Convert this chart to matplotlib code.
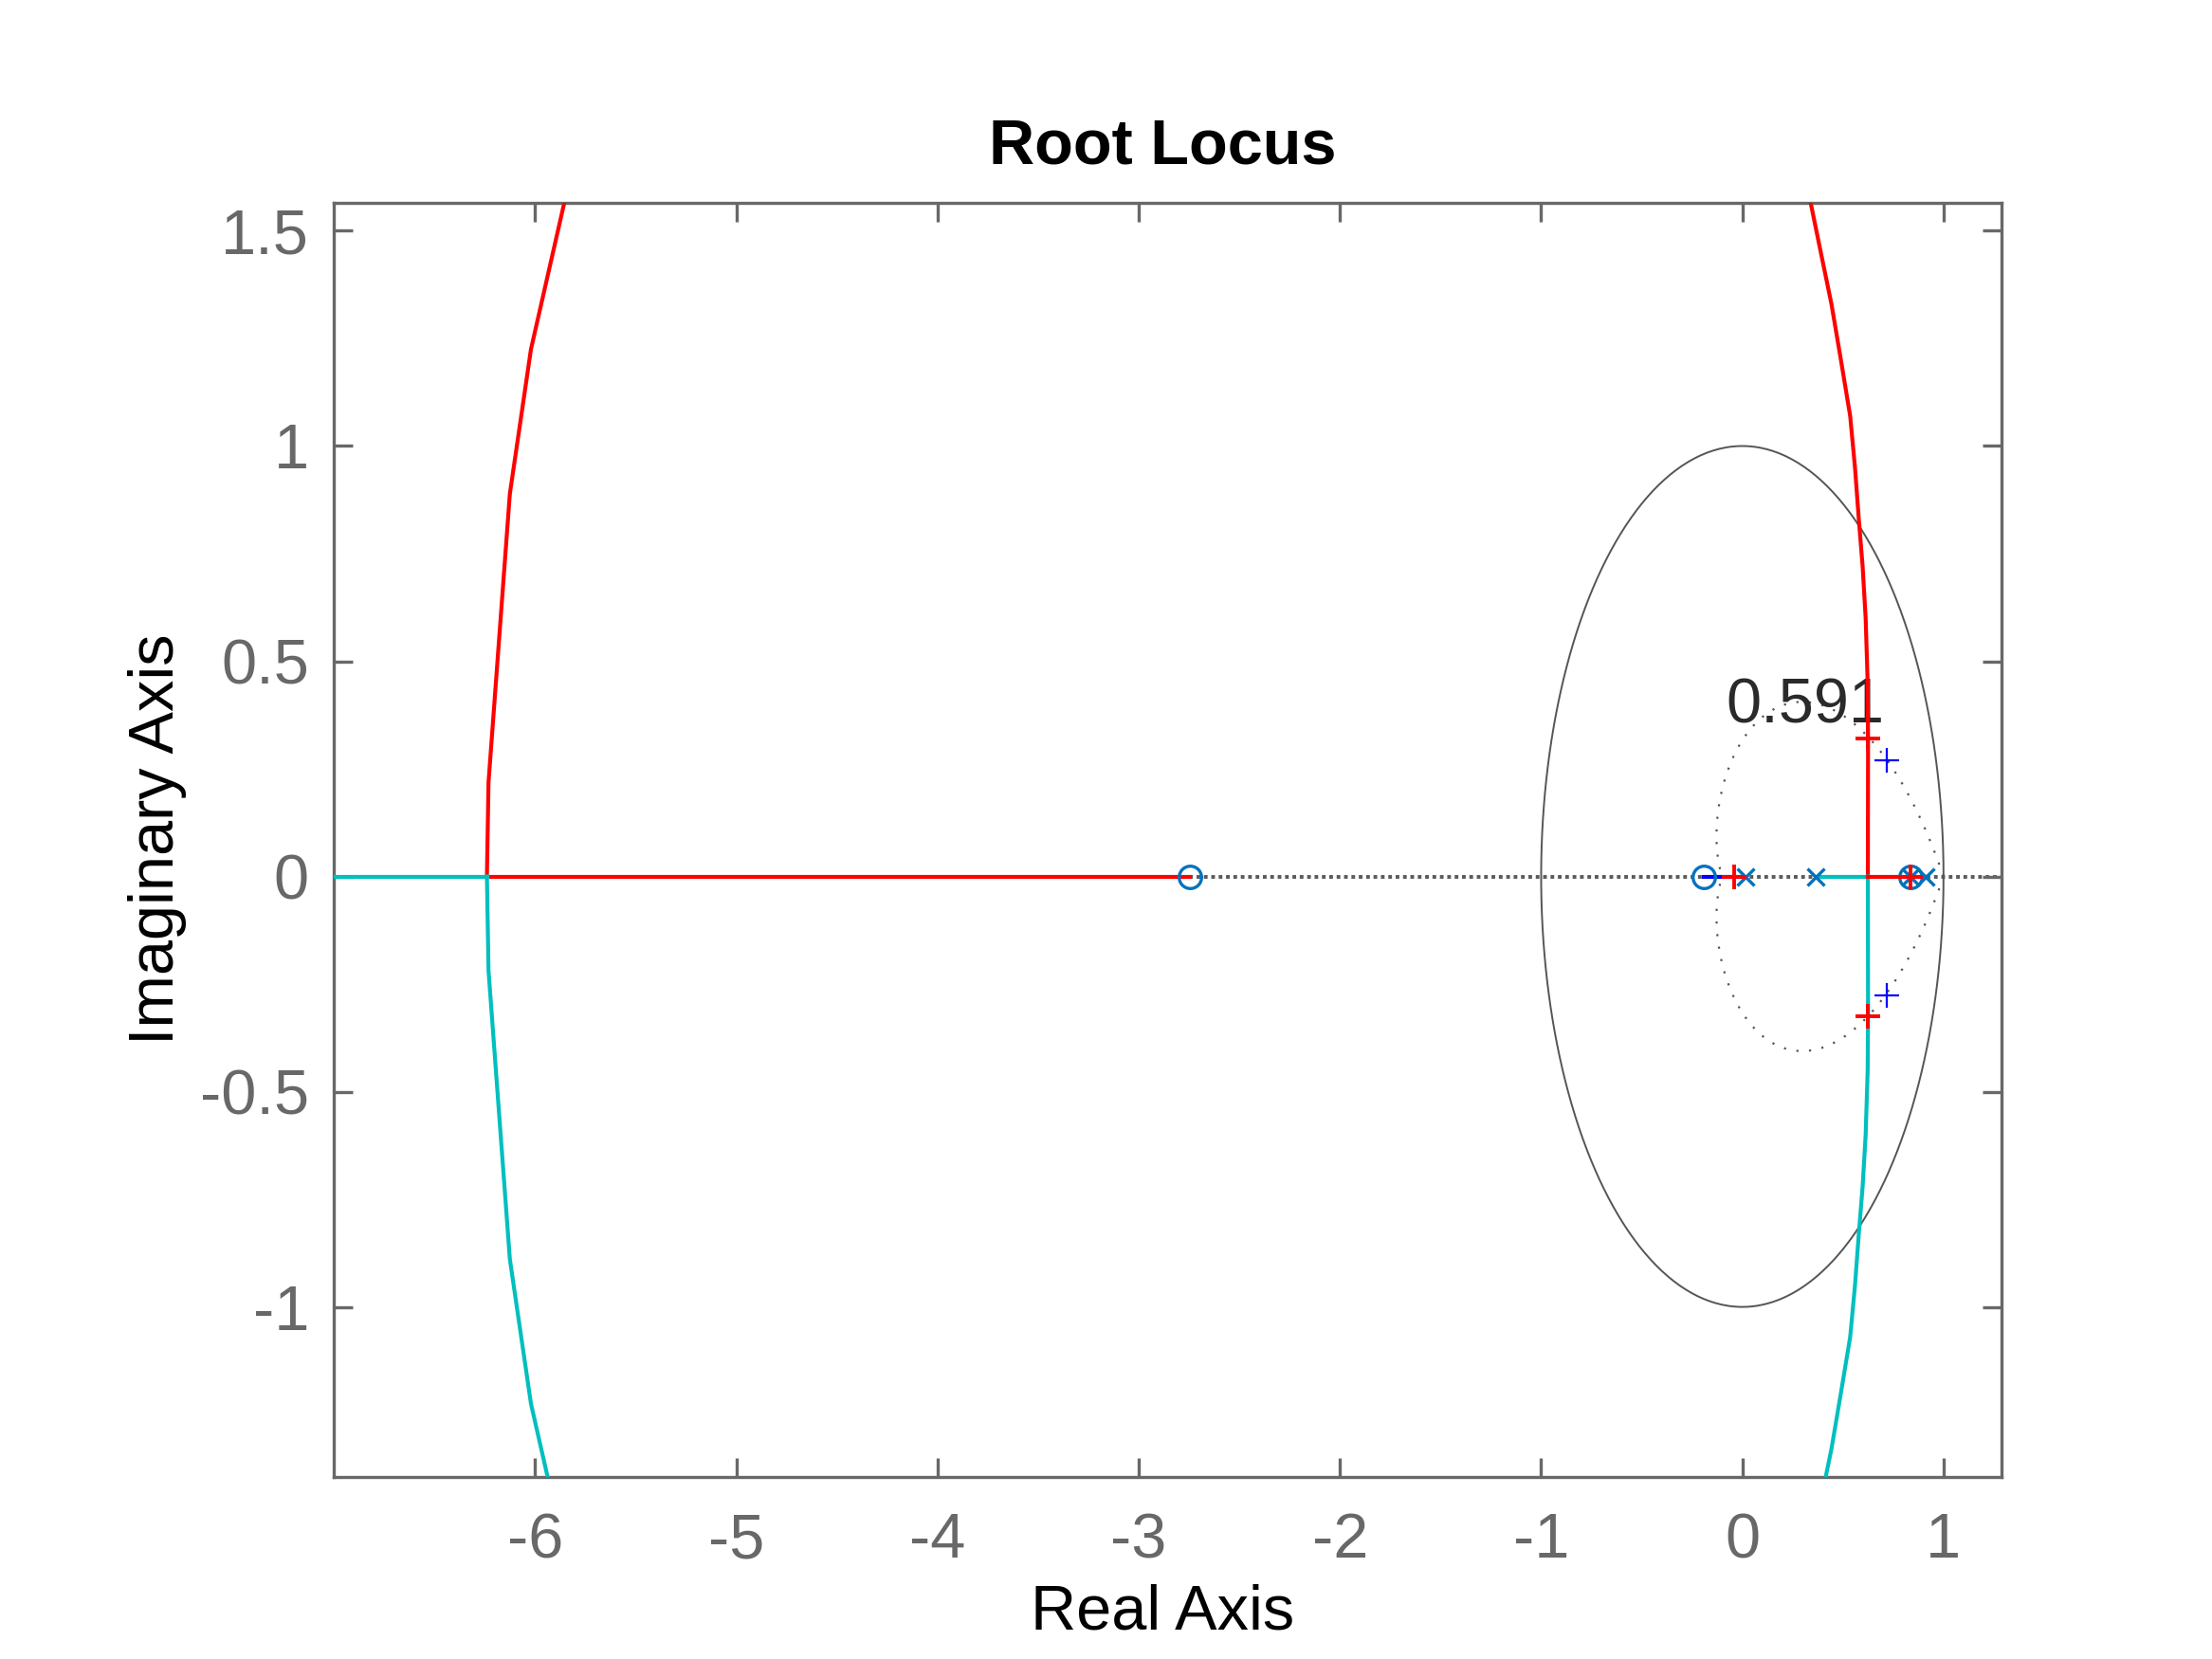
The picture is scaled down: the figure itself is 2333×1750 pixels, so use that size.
import numpy as np
import matplotlib
matplotlib.use("Agg")
import matplotlib.pyplot as plt

plt.rcParams['font.family'] = ['Liberation Sans', 'DejaVu Sans']
plt.rcParams['axes.unicode_minus'] = False

# --- data (z-plane root locus) ---
# left complex pair, upper half (lower half is the conjugate)
left_re = [-6.24, -6.232, -6.126, -6.021, -5.857, -5.83]
left_im = [0.0, 0.219, 0.889, 1.225, 1.562, 1.62]
# right complex pair, upper half
right_re = [0.624, 0.625, 0.623, 0.613, 0.598, 0.579, 0.56, 0.536, 0.49, 0.443, 0.39, 0.341, 0.31]
right_im = [0.0, 0.32, 0.45, 0.6, 0.72, 0.83, 0.95, 1.07, 1.2, 1.33, 1.45, 1.562, 1.62]

# real-axis segments
red_left_seg = [-6.24, -2.745]
cyan_left_seg = [-7.5, -6.24]
red_right_seg = [0.624, 0.90]
cyan_right_seg = [0.365, 0.624]
blue_seg = [-0.19, 0.0]
green_seg = [0.895, 0.91]

poles = [0.015, 0.365, 0.835, 0.91]
zeros_ = [-2.745, -0.19, 0.835]

# closed-loop poles marked with '+'
red_plus_re = [0.625, 0.625, -0.04, 0.835]
red_plus_im = [0.32, -0.325, 0.0, 0.0]
blue_plus_re = [0.716, 0.716]
blue_plus_im = [0.270, -0.276]

zeta = 0.591

xlim = (-7.0, 1.29)
ylim = (-1.394, 1.566)

fig = plt.figure(figsize=(11.665, 8.75), dpi=200)
ax = fig.add_axes([0.151, 0.110, 0.754, 0.768])

grey = '#686868'

# grid: real axis, unit circle, damping curve
ax.axhline(0, color='#5a5a5a', lw=1.4, ls=(0, (1, 1)), zorder=1)
th = np.linspace(0, 2 * np.pi, 400)
ax.plot(np.cos(th), np.sin(th), color='#555555', lw=0.7, zorder=1)
t = np.linspace(0, np.pi, 300)
r = np.exp(-zeta / np.sqrt(1 - zeta ** 2) * t)
ax.plot(r * np.cos(t), r * np.sin(t), color='#555555', lw=0.8, ls=(0, (1, 5)), zorder=1)
ax.plot(r * np.cos(t), -r * np.sin(t), color='#555555', lw=0.8, ls=(0, (1, 5)), zorder=1)
ax.text(0.31, 0.395, f"{zeta:.3g}", fontsize=24, color='#2a2a2a', ha='center', va='center', zorder=2)

# locus branches
red = '#FF0000'
cyan = '#00BFBF'
lw = 1.5
ax.plot(left_re, left_im, color=red, lw=lw, zorder=3)
ax.plot(left_re, -np.array(left_im), color=cyan, lw=lw, zorder=3)
ax.plot(right_re, right_im, color=red, lw=lw, zorder=3)
ax.plot(right_re, -np.array(right_im), color=cyan, lw=lw, zorder=3)
ax.plot(red_left_seg, [0, 0], color=red, lw=lw, zorder=3)
ax.plot(cyan_left_seg, [0, 0], color=cyan, lw=lw, zorder=3)
ax.plot(cyan_right_seg, [0, 0], color=cyan, lw=lw, zorder=3)
ax.plot(green_seg, [0, 0], color='#008000', lw=lw, zorder=3)
ax.plot(red_right_seg, [0, 0], color=red, lw=lw, zorder=3)
ax.plot(blue_seg, [0, 0], color='#0000FF', lw=lw, zorder=3)

# poles / zeros
pz = '#0072BD'
ax.plot(zeros_, np.zeros(len(zeros_)), 'o', mfc='none', mec=pz, ms=8.5, mew=1.2, zorder=4)
ax.plot(poles, np.zeros(len(poles)), 'x', color=pz, ms=6.5, mew=1.2, zorder=4)

ax.plot(red_plus_re, red_plus_im, '+', color=red, ms=9.4, mew=1.4, zorder=5)
ax.plot(blue_plus_re, blue_plus_im, '+', color='#0000FF', ms=9.4, mew=0.8, zorder=5)

ax.set_xlim(*xlim)
ax.set_ylim(*ylim)
ax.set_xticks(np.arange(-6, 2, 1))
ax.set_yticks([-1, -0.5, 0, 0.5, 1, 1.5])
ax.set_yticklabels(['-1', '-0.5', '0', '0.5', '1', '1.5'])

for s in ax.spines.values():
    s.set_color(grey)
    s.set_linewidth(1.2)
ax.tick_params(direction='in', length=7.2, width=1.2, color=grey, labelcolor=grey,
               labelsize=24, top=True, right=True)
ax.tick_params(axis='x', pad=13.5)
ax.tick_params(axis='y', pad=9.5)

ax.set_title("Root Locus", fontsize=24, fontweight='bold', pad=14.8, x=0.4966)
ax.set_xlabel("Real Axis", fontsize=24, labelpad=4.7)
ax.xaxis.label.set_x(0.4966)
ax.set_ylabel("Imaginary Axis", fontsize=24, labelpad=4.8)

fig.savefig("out.png", dpi=200)
